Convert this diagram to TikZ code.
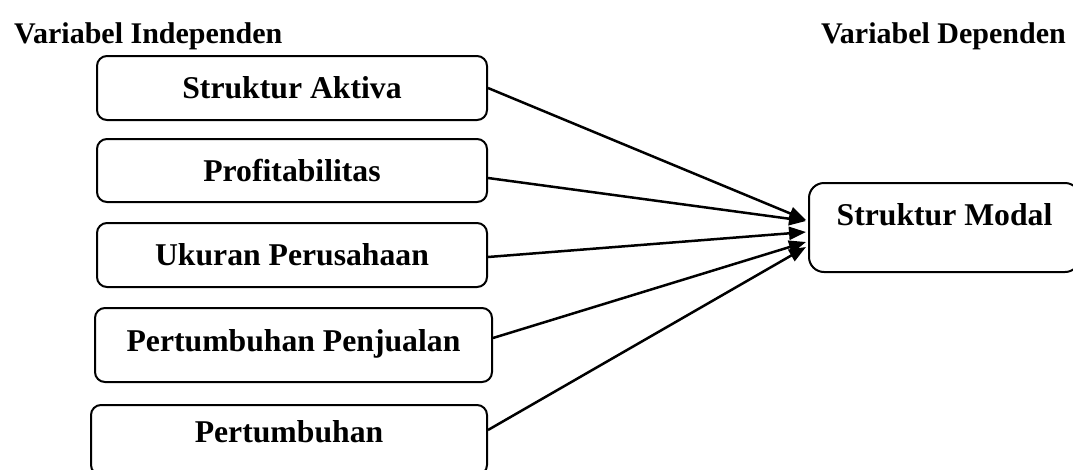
\documentclass[tikz,border=0pt]{standalone}
\usepackage{fontspec}
\setmainfont{Liberation Serif}
\usetikzlibrary{arrows.meta}
\tikzset{
  varbox/.style={draw=black, line width=2pt, rounded corners=10pt, inner sep=0pt,
    font=\fontsize{31.7}{38}\selectfont\bfseries, text height=21pt, text depth=0pt},
  heading/.style={inner sep=0pt, font=\fontsize{30}{36}\selectfont\bfseries},
  link/.style={draw=black, line width=2.5pt, -{Triangle[length=17pt,width=13pt]}}
}
\begin{document}
\begin{tikzpicture}[x=1pt,y=-1pt]
\path[use as bounding box, clip] (0,0) rectangle (1073,469);
\fill[white] (0,0) rectangle (1073,469);
\node[heading, anchor=base west] (hi) at (14,43) {Variabel Independen};
\node[heading, anchor=base east] (hd) at (1066,43) {Variabel Dependen};
\node[varbox, minimum width=390pt, minimum height=64pt] (a) at (292,88) {Struktur Aktiva};
\node[varbox, minimum width=390pt, minimum height=63pt] (b) at (292,170.5) {Profitabilitas};
\node[varbox, minimum width=390pt, minimum height=64pt] (c) at (292,255) {Ukuran Perusahaan};
\node[varbox, minimum width=397pt, minimum height=74pt, text depth=9pt] (d) at (293.5,345) {Pertumbuhan Penjualan};
\node[varbox, minimum width=396pt, minimum height=70pt, text depth=16pt] (e) at (289,440) {Pertumbuhan};
\node[varbox, rounded corners=15pt, minimum width=271pt, minimum height=89pt, text depth=25pt] (m) at (944.5,227.5) {Struktur Modal};
\draw[link] (a.east) -- ([xshift=-2pt,yshift=7.5pt]m.west);
\draw[link] ([yshift=-7.5pt]b.east) -- ([xshift=-2pt,yshift=6.5pt]m.west);
\draw[link] ([yshift=-2pt]c.east) -- ([xshift=-2pt,yshift=-4.5pt]m.west);
\draw[link] ([yshift=7pt]d.east) -- ([xshift=-2pt,yshift=-14.5pt]m.west);
\draw[link] ([yshift=10pt]e.east) -- ([xshift=-2pt,yshift=-19.5pt]m.west);
\end{tikzpicture}
\end{document}
